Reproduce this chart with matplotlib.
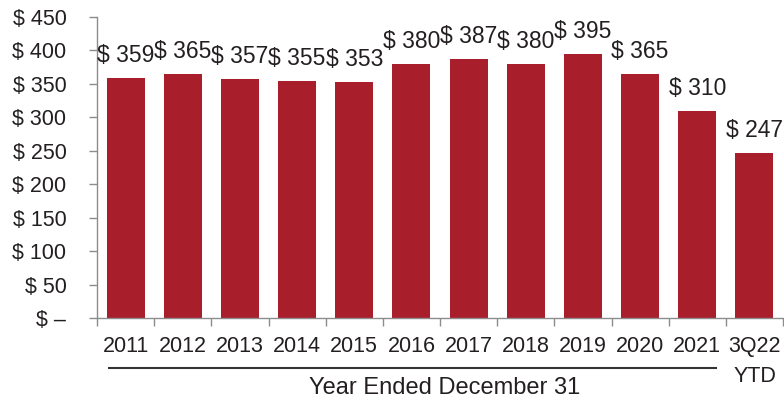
import matplotlib
matplotlib.use("Agg")
import matplotlib.pyplot as plt
import numpy as np

plt.rcParams['font.family'] = ['Liberation Sans', 'DejaVu Sans']

categories = ["2011", "2012", "2013", "2014", "2015", "2016", "2017",
              "2018", "2019", "2020", "2021", "3Q22"]
values = [359, 365, 357, 355, 353, 380, 387, 380, 395, 365, 310, 247]
yticks = [0, 50, 100, 150, 200, 250, 300, 350, 400, 450]

bar_color = "#A91E2B"
text_color = "#231F20"
axis_color = "#8C8C8C"

fig = plt.figure(figsize=(7.84, 4.01), dpi=100)
ax = fig.add_axes([97 / 784, 1 - 318 / 401, 686 / 784, 301 / 401])

x = np.arange(len(categories))
ax.bar(x, values, width=0.665, color=bar_color, zorder=2)

for xi, v in zip(x, values):
    ax.annotate(f"$ {v}", (xi, v), xytext=(0, 11.5), textcoords="offset points",
                ha="center", va="baseline", fontsize=16.5, color=text_color,
                annotation_clip=False)

ax.set_xlim(-0.5, len(categories) - 0.5)
ax.set_ylim(0, 450)

ax.set_yticks(yticks)
ax.set_yticklabels(["$ –" if t == 0 else f"$ {t}" for t in yticks])
ax.tick_params(axis="y", length=6, width=1, color=axis_color, labelsize=15.5,
               labelcolor=text_color, pad=16)

# labels at bar centres, tick marks at category boundaries
ax.set_xticks(x)
ax.set_xticklabels(categories)
ax.set_xticks(np.arange(len(categories) + 1) - 0.5, minor=True)
ax.tick_params(axis="x", which="major", length=0, labelsize=15.5,
               labelcolor=text_color, pad=13)
ax.tick_params(axis="x", which="minor", length=6, width=1, color=axis_color)

for s in ["top", "right"]:
    ax.spines[s].set_visible(False)
for s in ["left", "bottom"]:
    ax.spines[s].set_color(axis_color)
    ax.spines[s].set_linewidth(1)

# bracket line under the full years
fig.add_artist(plt.Line2D([109 / 784, 716 / 784], [1 - 368 / 401, 1 - 368 / 401],
                          color="#333333", lw=1.5))
fig.text(755 / 784, 1 - 376 / 401, "YTD", ha="center", va="center",
         fontsize=15.5, color=text_color)
fig.text(445 / 784, 1 - 388 / 401, "Year Ended December 31", ha="center",
         va="center", fontsize=17, color=text_color)

fig.savefig("out.png", dpi=100)
